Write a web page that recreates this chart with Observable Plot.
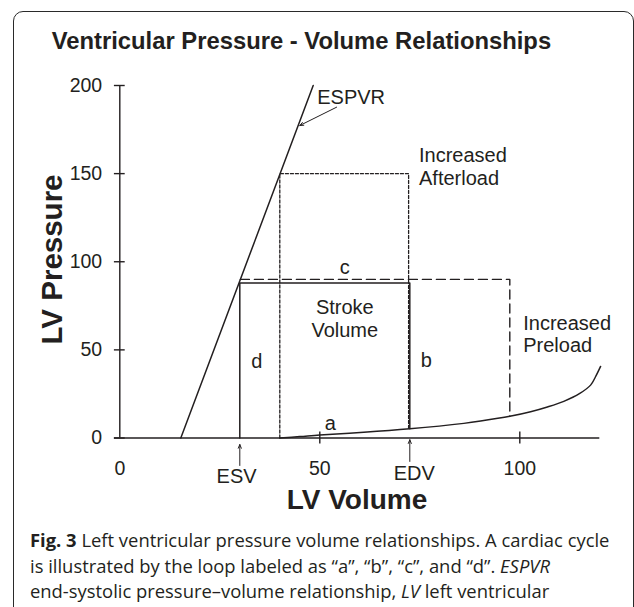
<!DOCTYPE html>
<html>
<head>
<meta charset="utf-8">
<script src="https://cdn.jsdelivr.net/npm/d3@7"></script>
<script src="https://cdn.jsdelivr.net/npm/@observablehq/plot@0.6"></script>
<style>
  html, body { margin: 0; padding: 0; background: #fff; overflow: hidden; }
  body { width: 634px; height: 607px; position: relative; }
  #frame { position: absolute; left: 12.5px; top: 10.5px; width: 621px; height: 640px;
           border: 1.4px solid #2a2a2a; border-radius: 10px; box-sizing: border-box; }
  #title { position: absolute; left: 51.7px; top: 28.5px; margin: 0; white-space: nowrap;
           font: bold 23.8px/1 "Liberation Sans", Arial, sans-serif; color: #231f20; }
  #chart { position: absolute; left: 0; top: 0; }
  #caption { position: absolute; left: 30px; top: 527px; margin: 0; white-space: nowrap;
             font: 18.4px/25.5px "Open Sans", sans-serif; color: #231f20; }
</style>
</head>
<body>
<div id="frame"></div>
<div id="title">Ventricular Pressure - Volume Relationships</div>
<div id="chart"></div>
<div id="caption"><b>Fig. 3</b> Left ventricular pressure volume relationships. A cardiac cycle<br>is illustrated by the loop labeled as “a”, “b”, “c”, and “d”. <i>ESPVR</i><br>end-systolic pressure–volume relationship, <i>LV</i> left ventricular</div>
<script>
// ---- data ----
const yTicks = [0, 50, 100, 150, 200];
const xTicks = [0, 50, 100];

// End-systolic pressure-volume relationship (straight line)
const espvrVol = [15.25, 48.35];
const espvrPres = [0, 200];

// End-diastolic (filling) curve
const edpvrVol  = [40, 45, 50, 61, 72.5, 86, 90.2, 97.5, 102.7, 106.9, 111, 115, 117.7, 118.9, 120.2];
const edpvrPres = [0, 0.8, 1.7, 3.2, 5.2, 8.3, 9.6, 12.3, 14.9, 17.6, 20.8, 25.3, 30, 34.6, 40.6];

// Baseline loop d - c - b
const loopVol  = [30, 30, 72.5, 72.5];
const loopPres = [0, 88, 88, 5.2];

// Increased afterload loop (dotted)
const afterVol  = [40, 40, 72.2, 72.2];
const afterPres = [0, 150, 150, 5.1];

// Increased preload loop (dashed)
const preVol  = [30.15, 97.5, 97.5];
const prePres = [90, 90, 12.3];

// Labels
const labelText = ["c", "d", "b", "a"];
const labelVol  = [56.25, 34.25, 76.6, 52.6];
const labelPres = [96.8, 43.1, 44.2, 7.9];

const noteText = ["Increased\nAfterload", "Stroke\nVolume", "Increased\nPreload"];
const noteVol  = [74.8, 56.25, 100.85];
const notePres = [154.2, 68.1, 59.1];
const noteAnchor = ["start", "middle", "start"];

const volMarkText = ["ESV", "EDV"];
const volMarkVol  = [30, 72.5];
const volMarkLabelVol = [29.2, 73.6];
const volMarkLabelPres = [-25.6, -24.1];
const volArrowFrom = [-15.6, -13.3];
const volArrowTo   = [-3.7, -1.0];

const espvrArrow = {x1: 54.2, y1: 187.7, x2: 45, y2: 177.3};

// ---- build tables ----
const zip = (a, b) => a.map((v, i) => ({x: v, y: b[i]}));
const espvr = zip(espvrVol, espvrPres);
const edpvr = zip(edpvrVol, edpvrPres);
const loop = zip(loopVol, loopPres);
const after = zip(afterVol, afterPres);
const pre = zip(preVol, prePres);
const labels = labelText.map((t, i) => ({t, x: labelVol[i], y: labelPres[i]}));
const notes = noteText.map((t, i) => ({t, x: noteVol[i], y: notePres[i], a: noteAnchor[i]}));
const volMarks = volMarkText.map((t, i) => ({t, x: volMarkVol[i], lx: volMarkLabelVol[i], ly: volMarkLabelPres[i], y1: volArrowFrom[i], y2: volArrowTo[i]}));

const ink = "#231f20";

const chart = Plot.plot({
  width: 634,
  height: 530,
  marginLeft: 119.3,
  marginRight: 34.7,
  marginTop: 85,
  marginBottom: 92.5,
  x: {domain: [0, 120], axis: null},
  y: {domain: [0, 200], axis: null},
  style: {fontFamily: "'Liberation Sans', Arial, sans-serif", fontSize: "20px", color: ink, background: "none", overflow: "visible"},
  marks: [
    // axes
    Plot.ruleY([0], {x1: -1.35, x2: 120, stroke: ink, strokeWidth: 1.4}),
    Plot.ruleX([0], {y1: 0, y2: 200, stroke: ink, strokeWidth: 1.4}),
    Plot.ruleY(yTicks, {y: d => d, x1: -1.35, x2: 1.35, stroke: ink, strokeWidth: 1.4}),
    Plot.ruleX(xTicks.slice(1), {x: d => d, y1: -3.4, y2: 3.4, stroke: ink, strokeWidth: 1.4}),
    Plot.text(yTicks, {x: 0, y: d => d, text: d => String(d), dx: -17.6, textAnchor: "end", fontSize: 19.5, fill: ink}),
    Plot.text(xTicks, {x: d => d, y: 0, text: d => String(d), dy: 36.5, lineAnchor: "bottom", fontSize: 19.5, fill: ink}),
    // axis titles
    Plot.text(["LV Volume"], {x: 59.3, y: 0, dy: 70.5, lineAnchor: "bottom", fontSize: 28, fontWeight: "bold", fill: ink}),
    Plot.text(["LV Pressure"], {x: -16.9, y: 101.3, rotate: -90, fontSize: 29.5, fontWeight: "bold", fill: ink}),
    // ESPVR & EDPVR
    Plot.line(espvr, {x: "x", y: "y", stroke: ink, strokeWidth: 1.5}),
    Plot.line(edpvr, {x: "x", y: "y", stroke: ink, strokeWidth: 1.5, curve: "catmull-rom"}),
    // loops
    Plot.line(after, {x: "x", y: "y", stroke: ink, strokeWidth: 1.3, strokeDasharray: "3,2"}),
    Plot.line(pre, {x: "x", y: "y", stroke: ink, strokeWidth: 1.4, strokeDasharray: "9,5"}),
    Plot.line(loop, {x: "x", y: "y", stroke: ink, strokeWidth: 1.5}),
    // ESV / EDV markers
    Plot.arrow(volMarks, {x1: "x", x2: "x", y1: "y1", y2: "y2", stroke: ink, strokeWidth: 1, headLength: 6, headAngle: 45}),
    Plot.text(volMarks, {x: "lx", y: "ly", text: "t", lineAnchor: "bottom", fontSize: 20, fill: ink}),
    // ESPVR label + arrow
    Plot.arrow([espvrArrow], {x1: "x1", y1: "y1", x2: "x2", y2: "y2", stroke: ink, strokeWidth: 1, headLength: 6, headAngle: 45}),
    Plot.text(["ESPVR"], {x: 49.35, y: 193.2, textAnchor: "start", fontSize: 20, fill: ink}),
    // letters and notes
    Plot.text(labels, {x: "x", y: "y", text: "t", fontSize: 20, fill: ink}),
    Plot.text(notes.filter(d => d.a === "start"), {x: "x", y: "y", text: "t", textAnchor: "start", lineHeight: 1.115, fontSize: 20, fill: ink}),
    Plot.text(notes.filter(d => d.a === "middle"), {x: "x", y: "y", text: "t", textAnchor: "middle", lineHeight: 1.17, fontSize: 20, fill: ink})
  ]
});
document.getElementById("chart").appendChild(chart);
</script>
</body>
</html>
